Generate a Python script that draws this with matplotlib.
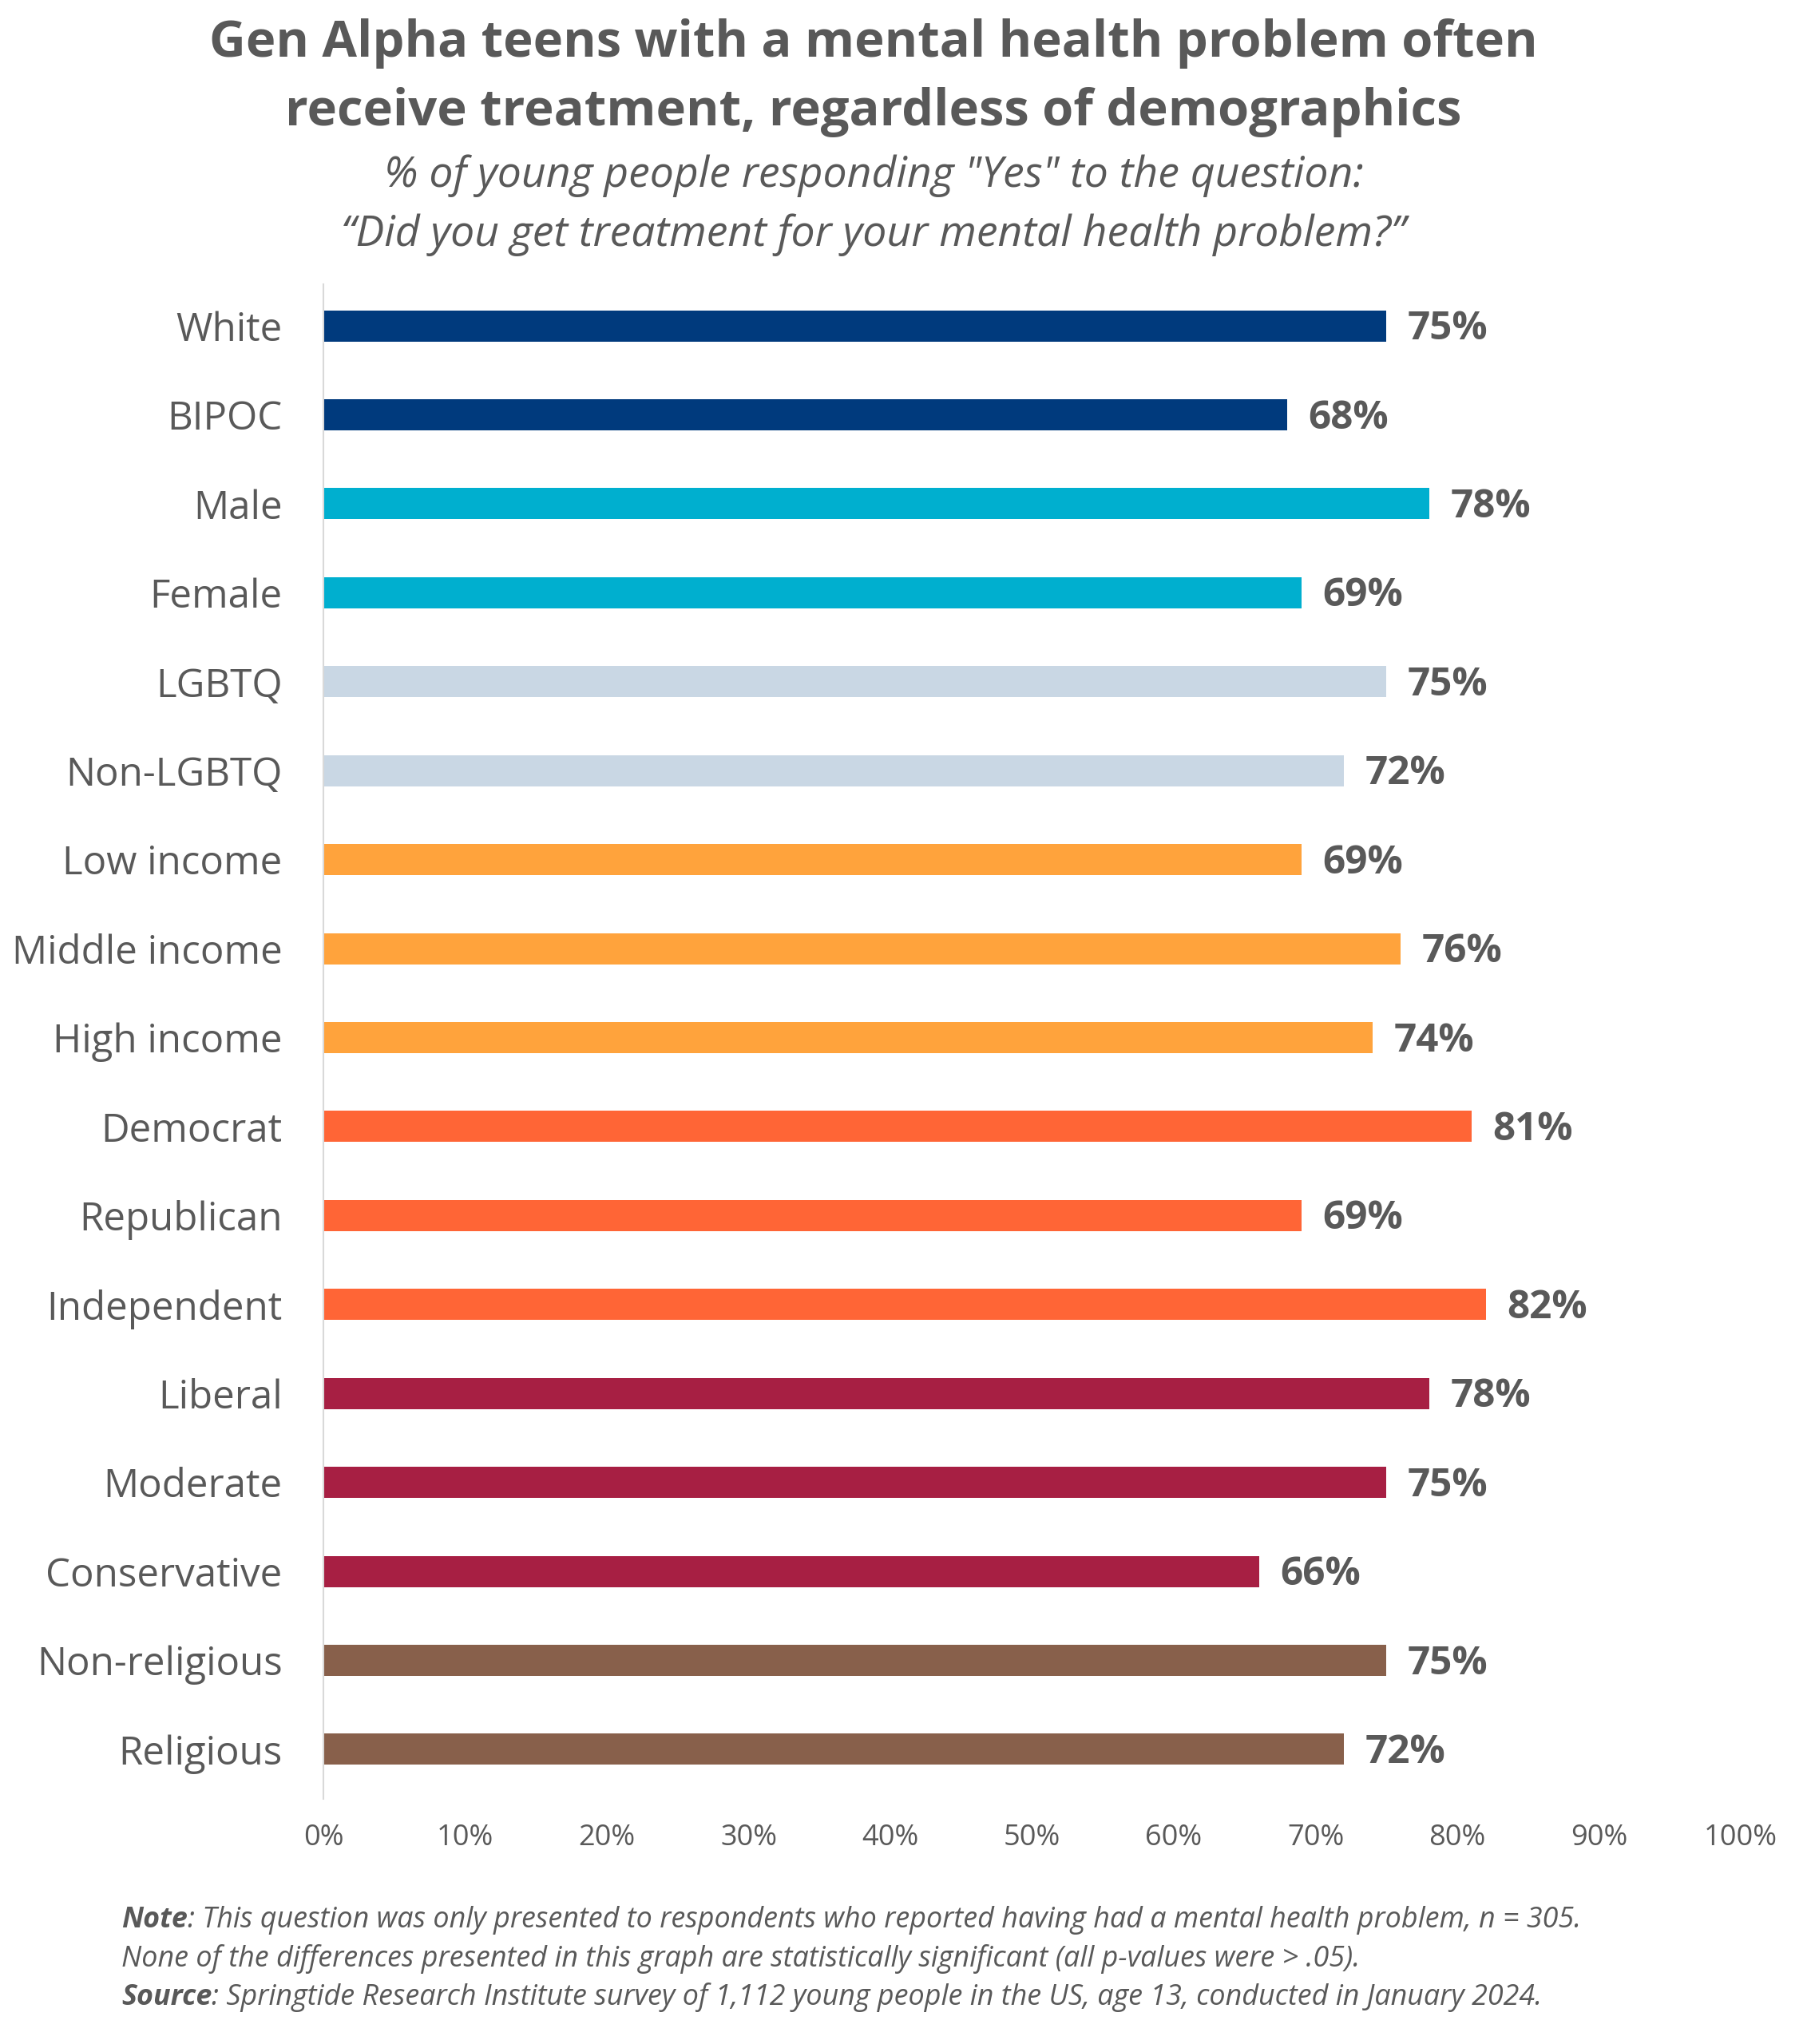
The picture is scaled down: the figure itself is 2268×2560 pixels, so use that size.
import matplotlib
matplotlib.use("Agg")
import matplotlib.pyplot as plt
import numpy as np

plt.rcParams['font.family'] = ['Open Sans', 'DejaVu Sans']

categories = ["White", "BIPOC", "Male", "Female", "LGBTQ", "Non-LGBTQ",
              "Low income", "Middle income", "High income", "Democrat",
              "Republican", "Independent", "Liberal", "Moderate",
              "Conservative", "Non-religious", "Religious"]
values = [75, 68, 78, 69, 75, 72, 69, 76, 74, 81, 69, 82, 78, 75, 66, 75, 72]
groups = [0, 0, 1, 1, 2, 2, 3, 3, 3, 4, 4, 4, 5, 5, 5, 6, 6]
group_colors = ["#003A7D", "#00AFCF", "#C9D7E4", "#FFA33C", "#FF6536", "#A71F43", "#88604B"]
xticks = [0, 10, 20, 30, 40, 50, 60, 70, 80, 90, 100]

title_lines = ["Gen Alpha teens with a mental health problem often",
               "receive treatment, regardless of demographics"]
subtitle_lines = ["% of young people responding \"Yes\" to the question:",
                  "\u201cDid you get treatment for your mental health problem?\u201d"]
note_lines = [
    ("Note", ": This question was only presented to respondents who reported having had a mental health problem, n = 305."),
    ("", "None of the differences presented in this graph are statistically significant (all p-values were > .05)."),
    ("Source", ": Springtide Research Institute survey of 1,112 young people in the US, age 13, conducted in January 2024."),
]

grey = "#595959"

fig = plt.figure(figsize=(22.68, 25.6), dpi=100)
ax = fig.add_axes([0.1786, 0.1199, 0.9612 - 0.1786, 0.8609 - 0.1199])

y = np.arange(len(categories))
cols = [group_colors[g] for g in groups]
ax.barh(y, values, height=0.35, color=cols)

for yi, v in zip(y, values):
    ax.text(v + 1.5, yi + 0.04, f"{v}%", va="center", ha="left",
            fontsize=35.5, fontweight="bold", color=grey)

ax.set_xlim(0, 100)
ax.set_ylim(16.557, -0.467)
ax.set_yticks(y)
ax.set_yticklabels(categories, fontsize=35.5, color=grey)
ax.set_xticks(xticks)
ax.set_xticklabels([f"{t}%" for t in xticks], fontsize=26, color=grey)
ax.tick_params(axis="y", length=0, pad=37)
ax.tick_params(axis="x", length=0, pad=22)
for s in ["top", "right", "bottom"]:
    ax.spines[s].set_visible(False)
ax.spines["left"].set_color("#D9D9D9")
ax.spines["left"].set_linewidth(1.5)

cx = 0.4824
for line, yy in zip(title_lines, [55, 140]):
    fig.text(cx, 1 - yy / 2560, line, ha="center", va="center", fontsize=45.5,
             fontweight="bold", color=grey)
for line, yy in zip(subtitle_lines, [220, 294]):
    fig.text(cx, 1 - yy / 2560, line, ha="center", va="center", fontsize=38.5,
             style="italic", color=grey)

renderer = fig.canvas.get_renderer()
x0 = 152 / 2268
ys = [2405, 2454, 2502]
for (bold, rest), yy in zip(note_lines, ys):
    yf = 1 - yy / 2560
    x = x0
    if bold:
        t = fig.text(x, yf, bold, ha="left", va="center", fontsize=25.8,
                     style="italic", fontweight="bold", color=grey)
        bb = t.get_window_extent(renderer)
        x = bb.x1 / fig.bbox.width
    fig.text(x, yf, rest, ha="left", va="center", fontsize=25.8,
             style="italic", color=grey)

fig.savefig("out.png", dpi=100, facecolor="white")
